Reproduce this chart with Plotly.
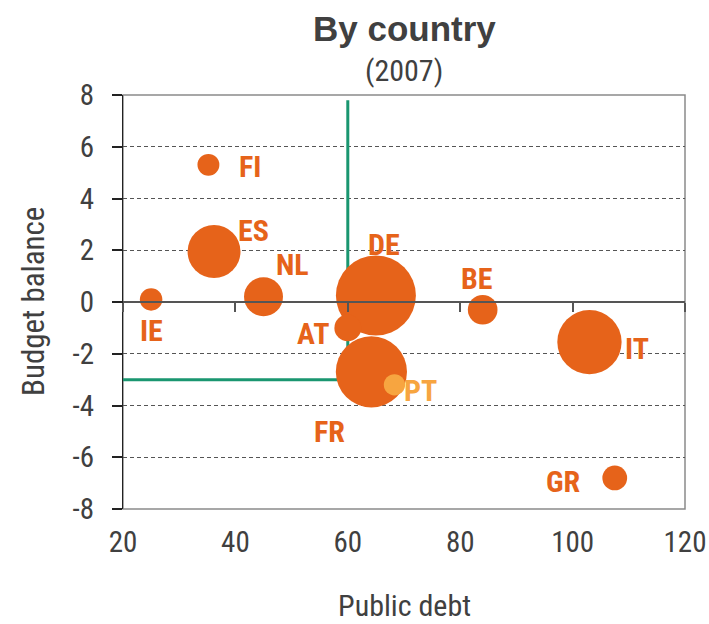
import plotly.graph_objects as go
import numpy as np

countries = ["FI", "ES", "IE", "NL", "DE", "AT", "FR", "PT", "BE", "IT", "GR"]
public_debt = [35.2, 36.2, 25.0, 45.0, 65.0, 60.0, 64.2, 68.3, 84.0, 103.0, 107.5]
budget_balance = [5.3, 1.95, 0.1, 0.2, 0.25, -1.0, -2.7, -3.2, -0.3, -1.55, -6.8]
gdp = [0.18, 1.05, 0.19, 0.57, 2.4, 0.27, 1.9, 0.17, 0.33, 1.55, 0.23]
criteria_x = [20, 60, 60]
criteria_y = [-3, -3, 7.8]
x_ticks = [20, 40, 60, 80, 100, 120]
y_ticks = [-8, -6, -4, -2, 0, 2, 4, 6, 8]

ORANGE = "#E6631A"
LIGHT = "#F7A540"
GREEN = "#1A9670"
DARK = "#404040"
NARROW = "Roboto Condensed, Liberation Sans Narrow, Arial Narrow, Roboto, sans-serif"
SANS = "Liberation Sans, Arial, sans-serif"

colors = [LIGHT if c == "PT" else ORANGE for c in countries]
max_d = 80
diam = [max_d * np.sqrt(g / max(gdp)) for g in gdp]

# label offsets (pixels) relative to bubble centers
offsets = {"FI": (42, -2), "ES": (39, 21), "IE": (0, -31), "NL": (29, 32),
           "DE": (8, 51), "AT": (-35, -6), "FR": (-42, -60), "PT": (26, -6),
           "BE": (-6, 31), "IT": (48, -6), "GR": (-51, -4)}

fig = go.Figure()
fig.add_trace(go.Scatter(x=criteria_x, y=criteria_y, mode="lines",
                         line=dict(color=GREEN, width=3), hoverinfo="skip",
                         showlegend=False))
fig.add_trace(go.Scatter(x=public_debt, y=budget_balance, mode="markers",
                         marker=dict(size=diam, sizemode="diameter", color=colors,
                                     opacity=1, line=dict(width=0)),
                         text=countries, showlegend=False))
# invisible trace for the zero-crossing axis
fig.add_trace(go.Scatter(x=[20], y=[0], xaxis="x2", mode="markers",
                         marker=dict(opacity=0), showlegend=False, hoverinfo="skip"))

for c, x, y, col in zip(countries, public_debt, budget_balance, colors):
    dx, dy = offsets[c]
    fig.add_annotation(x=x, y=y, text="<b>%s</b>" % c, showarrow=False,
                       xshift=dx, yshift=dy,
                       font=dict(family=NARROW, size=30, color=col))

fig.add_annotation(x=0.5, y=1, xref="paper", yref="paper", yshift=67,
                   yanchor="middle", xanchor="center",
                   text="<b>By country</b>", showarrow=False,
                   font=dict(family=SANS, size=35, color=DARK))
fig.add_annotation(x=0.5, y=1, xref="paper", yref="paper", yshift=25,
                   yanchor="middle", xanchor="center",
                   text="(2007)", showarrow=False,
                   font=dict(family=NARROW, size=30, color=DARK))
fig.add_annotation(x=0.5, y=0, xref="paper", yref="paper", yshift=-96,
                   yanchor="middle", xanchor="center",
                   text="Public debt", showarrow=False,
                   font=dict(family=NARROW, size=30, color=DARK))
fig.add_annotation(x=0, y=0.5, xref="paper", yref="paper", xshift=-90,
                   yanchor="middle", xanchor="center", textangle=-90,
                   text="Budget balance", showarrow=False,
                   font=dict(family=NARROW, size=31, color=DARK))

fig.add_shape(type="rect", xref="paper", yref="paper", x0=0, x1=1, y0=0, y1=1,
              line=dict(color="#8a8a8a", width=1.5), layer="below")

fig.update_layout(
    width=709, height=624,
    margin=dict(l=123, r=24, t=95, b=115),
    plot_bgcolor="white", paper_bgcolor="white",
    font=dict(family=NARROW, color=DARK),
    xaxis=dict(range=[20, 120], tickvals=x_ticks, ticktext=[str(v) for v in x_ticks],
               showgrid=False, zeroline=False,
               showline=False, ticks="", ticklabelstandoff=13, automargin=False,
               ticklabeloverflow="allow",
               tickfont=dict(size=29, color=DARK)),
    xaxis2=dict(range=[20, 120], overlaying="x", anchor="free", position=0.5,
                tickvals=x_ticks, showticklabels=False, ticks="outside", ticklen=9,
                tickwidth=1.5, tickcolor="#555555", showline=True, linecolor="#555555",
                linewidth=2, showgrid=False, zeroline=False),
    yaxis=dict(range=[-8, 8], tickvals=y_ticks, ticktext=[str(v) for v in y_ticks],
               showgrid=True, gridcolor="#555555",
               griddash="4px,3px", gridwidth=1, zeroline=False, showline=True,
               linecolor="#222222", linewidth=1.2, ticks="outside", ticklen=10,
               tickwidth=2, tickcolor="#222222", ticklabelstandoff=12, automargin=False,
               tickfont=dict(size=29, color=DARK)),
)

fig.write_html("out.html", config={"displayModeBar": False},
               post_script="document.body.style.margin='0';document.body.style.overflow='hidden';")
